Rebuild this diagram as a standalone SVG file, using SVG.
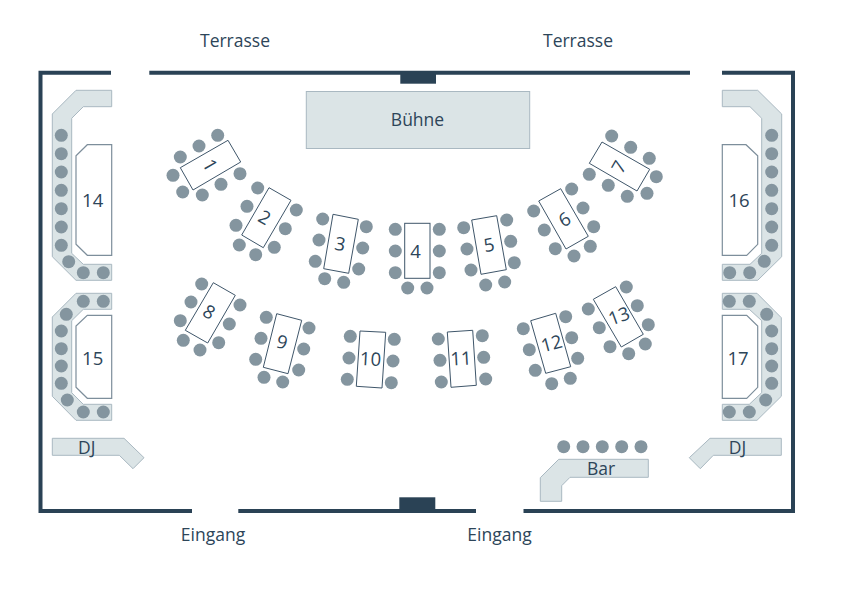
<svg xmlns="http://www.w3.org/2000/svg" width="842" height="595" viewBox="0 0 842 595">
<style>
text{font-family:"Open Sans","Noto Sans","Liberation Sans",sans-serif;fill:#2d4559;font-size:17.500px;text-anchor:middle}
g[id^="t"] text{font-size:18.500px}
.wall{fill:none;stroke:#2a4255;stroke-width:4}
.block{fill:#2a4255}
.band{fill:#dbe4e6;stroke:#a9b8c1;stroke-width:1}
.booth{fill:#fff;stroke:#7d8e9b;stroke-width:1.2}
.table{fill:#fff;stroke:#3f566a;stroke-width:1}
circle{fill:#84959f;r:6.500px}
</style>
<rect width="842" height="595" fill="#fff"/>
<g id="walls">
<path class="wall" d="M111 72.700H40.500V511H192"/>
<path class="wall" d="M149.300 72.700H690"/>
<path class="wall" d="M722 72.700H793V511H523.500"/>
<path class="wall" d="M238.300 511H476"/>
<rect class="block" x="400.300" y="72" width="35.700" height="11.700"/>
<rect class="block" x="399.300" y="497.300" width="36" height="13"/>
</g>
<g id="labels">
<text x="235" y="47">Terrasse</text>
<text x="578" y="47">Terrasse</text>
<text x="213" y="541">Eingang</text>
<text x="499.500" y="541">Eingang</text>
</g>
<g id="stage"><rect class="band" x="306.300" y="91.500" width="223.400" height="57"/><text x="417.500" y="126">Bühne</text></g>
<g id="t1"><polygon class="table" points="228,140.300 240.700,162 193,190 180.300,167.700"/><circle cx="217.700" cy="135.300"/><circle cx="199" cy="146"/><circle cx="180.300" cy="157"/><circle cx="173" cy="175.300"/><circle cx="182.700" cy="192"/><circle cx="202.300" cy="195"/><circle cx="221" cy="184.300"/><circle cx="240" cy="173.700"/><text transform="translate(210 165) rotate(60)" y="6.500">1</text></g>
<g id="t2"><polygon class="table" points="269,187.700 291,200.300 263.300,247.700 241.700,235"/><circle cx="257.700" cy="188"/><circle cx="247" cy="206.300"/><circle cx="236" cy="225.300"/><circle cx="239.300" cy="245"/><circle cx="255.700" cy="254.700"/><circle cx="274.300" cy="247.300"/><circle cx="285.300" cy="228.700"/><circle cx="296.300" cy="210"/><text transform="translate(264.500 217.500) rotate(30)" y="6.500">2</text></g>
<g id="t3"><polygon class="table" points="333,214.300 358.300,219.300 348.700,273.300 323.700,268.700"/><circle cx="322.700" cy="219"/><circle cx="319" cy="240"/><circle cx="315.300" cy="261.300"/><circle cx="324.700" cy="278.700"/><circle cx="343.700" cy="282.300"/><circle cx="358.700" cy="269"/><circle cx="362.700" cy="248"/><circle cx="366.300" cy="226.700"/><text transform="translate(340 244) rotate(10)" y="6.500">3</text></g>
<g id="t4"><rect class="table" x="404.700" y="223.300" width="25.300" height="55"/><circle cx="395.300" cy="229.300"/><circle cx="395.300" cy="251"/><circle cx="395.300" cy="272.700"/><circle cx="407.700" cy="288"/><circle cx="427" cy="288"/><circle cx="439.300" cy="272.700"/><circle cx="439.300" cy="251"/><circle cx="439.300" cy="229.300"/><text transform="translate(415.500 251)" y="6.500">4</text></g>
<g id="t5"><polygon class="table" points="471.700,220 496.700,215.700 506.300,269.700 481,274.300"/><circle cx="463.700" cy="227.700"/><circle cx="467" cy="249"/><circle cx="471" cy="270"/><circle cx="485.700" cy="285"/><circle cx="504.700" cy="282"/><circle cx="514.300" cy="262.700"/><circle cx="510.700" cy="241.300"/><circle cx="506.700" cy="220"/><text transform="translate(489 245) rotate(-10)" y="6.500">5</text></g>
<g id="t6"><polygon class="table" points="560.700,188.700 588.300,236.300 566,249 538.700,201"/><circle cx="571.700" cy="189"/><circle cx="583" cy="208"/><circle cx="593.700" cy="226.700"/><circle cx="590.300" cy="246.300"/><circle cx="574" cy="256"/><circle cx="555.300" cy="248.700"/><circle cx="544.300" cy="230"/><circle cx="533.700" cy="211"/><text transform="translate(564.500 219.500) rotate(-30)" y="6.500">6</text></g>
<g id="t7"><polygon class="table" points="602,142 649.700,169.300 637,191 589.300,163.300"/><circle cx="611.700" cy="136"/><circle cx="630.700" cy="147.300"/><circle cx="649.300" cy="158.300"/><circle cx="656.300" cy="176.700"/><circle cx="647" cy="193.300"/><circle cx="627.300" cy="196.300"/><circle cx="608.300" cy="185.300"/><circle cx="589.300" cy="174.300"/><text transform="translate(619 167) rotate(-60)" y="6.500">7</text></g>
<g id="t8"><polygon class="table" points="213.300,282.700 235.300,295.300 207.700,343 185.300,330.300"/><circle cx="201.700" cy="284"/><circle cx="191" cy="302"/><circle cx="180.300" cy="320.700"/><circle cx="183.300" cy="340.300"/><circle cx="200" cy="350"/><circle cx="218.700" cy="342.700"/><circle cx="229.300" cy="324"/><circle cx="240" cy="305"/><text transform="translate(209 312) rotate(30)" y="6.500">8</text></g>
<g id="t9"><polygon class="table" points="276.700,313.700 301.700,320.300 288,373.700 263.300,367.300"/><circle cx="266.300" cy="317.300"/><circle cx="261" cy="338.300"/><circle cx="255.700" cy="359.300"/><circle cx="264" cy="377.300"/><circle cx="282.700" cy="382"/><circle cx="298.700" cy="370"/><circle cx="303.700" cy="349"/><circle cx="309" cy="328"/><text transform="translate(282 342) rotate(15)" y="6.500">9</text></g>
<g id="t10"><polygon class="table" points="360,331 385.700,332.300 382,388 356.300,386.300"/><circle cx="350.300" cy="336.300"/><circle cx="349" cy="358"/><circle cx="347.300" cy="379.300"/><circle cx="391.300" cy="382.700"/><circle cx="393" cy="361"/><circle cx="394.300" cy="339.300"/><text transform="translate(370.500 359) rotate(3)" y="6.500">10</text></g>
<g id="t11"><polygon class="table" points="447.300,332 472.700,330.300 476.300,385.300 451,387.300"/><circle cx="438.300" cy="339"/><circle cx="440" cy="360.300"/><circle cx="441.300" cy="382"/><circle cx="485.700" cy="379"/><circle cx="483.700" cy="357.300"/><circle cx="482.300" cy="335.700"/><text transform="translate(461 358.500) rotate(-3)" y="6.500">11</text></g>
<g id="t12"><polygon class="table" points="530.700,320.700 555.700,313.300 570.700,366.700 545.700,373.300"/><circle cx="523.300" cy="328.700"/><circle cx="529.300" cy="349.700"/><circle cx="535.300" cy="370.300"/><circle cx="551.700" cy="383.700"/><circle cx="570.300" cy="378.300"/><circle cx="577.700" cy="358.300"/><circle cx="571.700" cy="337.700"/><circle cx="565.700" cy="316.700"/><text transform="translate(551.500 343.500) rotate(-15)" y="6.500">12</text></g>
<g id="t13"><polygon class="table" points="593.300,299.300 615.700,286.700 643.300,334.300 621.300,347"/><circle cx="588.300" cy="309"/><circle cx="599.300" cy="327.700"/><circle cx="610" cy="346.700"/><circle cx="628.700" cy="353.700"/><circle cx="645.300" cy="344"/><circle cx="648.300" cy="324.700"/><circle cx="637.300" cy="305.700"/><circle cx="626.300" cy="287"/><text transform="translate(619 316) rotate(-20)" y="6.500">13</text></g>
<g id="t14"><polygon class="band" points="111.700,90.300 76,90.300 52.300,114 52.300,256.700 76,280.300 111.700,280.300 111.700,264.300 83.300,264.300 71.700,253.300 71.700,118.300 83.300,106.700 111.700,106.700"/><polygon class="booth" points="111.700,144.700 87.300,144.700 76,155.700 76,244.300 87.300,255.300 111.700,255.300"/><circle cx="61.300" cy="135.300"/><circle cx="61.300" cy="153.700"/><circle cx="61.300" cy="172"/><circle cx="61.300" cy="190.300"/><circle cx="61.300" cy="208.700"/><circle cx="61.300" cy="227"/><circle cx="61.300" cy="245.300"/><circle cx="68.700" cy="261.700"/><circle cx="83.300" cy="272.700"/><circle cx="103.300" cy="272.700"/><text x="92.700" y="206.500">14</text></g>
<g id="t15"><polygon class="band" points="111.700,293.300 76,293.300 52.300,317 52.300,396.300 76,420.300 111.700,420.300 111.700,404.300 83.300,404.300 71.700,392.700 71.700,320.700 83.300,309.300 111.700,309.300"/><polygon class="booth" points="111.700,315.300 87.300,315.300 76,326 76,387.300 87.300,398.300 111.700,398.300"/><circle cx="83.300" cy="301.300"/><circle cx="103.300" cy="301.300"/><circle cx="66.300" cy="314.300"/><circle cx="61.300" cy="331"/><circle cx="61.300" cy="348.700"/><circle cx="61.300" cy="366"/><circle cx="61.300" cy="383.300"/><circle cx="67.300" cy="400"/><circle cx="83.300" cy="412"/><circle cx="103.300" cy="412"/><text x="92.700" y="364.500">15</text></g>
<g id="t16"><polygon class="band" points="722.300,90.300 757.700,90.300 781.700,114 781.700,256.700 757.700,280.300 722.300,280.300 722.300,264.300 750,264.300 761.700,253.300 761.700,118.300 750,106.700 722.300,106.700"/><polygon class="booth" points="722.300,144.700 746,144.700 757.700,155.700 757.700,244.300 746.700,255.300 722.300,255.300"/><circle cx="771.700" cy="135.300"/><circle cx="771.700" cy="153.700"/><circle cx="771.700" cy="172"/><circle cx="771.700" cy="190.300"/><circle cx="771.700" cy="208.700"/><circle cx="771.700" cy="227"/><circle cx="771.700" cy="245.300"/><circle cx="764.300" cy="261.300"/><circle cx="749.700" cy="272.700"/><circle cx="729.700" cy="272.700"/><text x="739" y="206.500">16</text></g>
<g id="t17"><polygon class="band" points="722.300,293.300 757,293.300 781.300,317.700 781.300,396.300 757,420.300 722.300,420.300 722.300,404.300 749.300,404.300 761.700,392.700 761.700,320.700 749.300,309.300 722.300,309.300"/><polygon class="booth" points="722.300,315.300 746.700,315.300 757.700,326 757.700,387.300 746.700,398.300 722.300,398.300"/><circle cx="729.300" cy="301.300"/><circle cx="749.300" cy="301.300"/><circle cx="766.700" cy="314.300"/><circle cx="771.700" cy="331"/><circle cx="771.700" cy="348.700"/><circle cx="771.700" cy="366"/><circle cx="771.700" cy="383.300"/><circle cx="765.700" cy="400"/><circle cx="749.300" cy="412"/><circle cx="729.300" cy="412"/><text x="738" y="364.500">17</text></g>
<g id="dj-left"><polygon class="band" points="52.300,438.300 124,438.300 144,457.700 133,468.700 119.300,455.300 52.300,455.300"/><text x="86.700" y="453.500">DJ</text></g>
<g id="dj-right"><polygon class="band" points="781.300,438.300 710,438.300 689.300,457.700 700.300,468.700 713.300,455.300 781.300,455.300"/><text x="737.500" y="453.500">DJ</text></g>
<g id="bar"><polygon class="band" points="558.700,459.300 648.300,459.300 648.300,477.300 570,477.300 561.700,485.700 561.700,501.300 540.300,501.300 540.300,477.700"/><circle cx="563.700" cy="446.700"/><circle cx="583" cy="446.700"/><circle cx="602.300" cy="446.700"/><circle cx="621.700" cy="446.700"/><circle cx="641" cy="446.700"/><text x="601" y="474.500">Bar</text></g>
</svg>
